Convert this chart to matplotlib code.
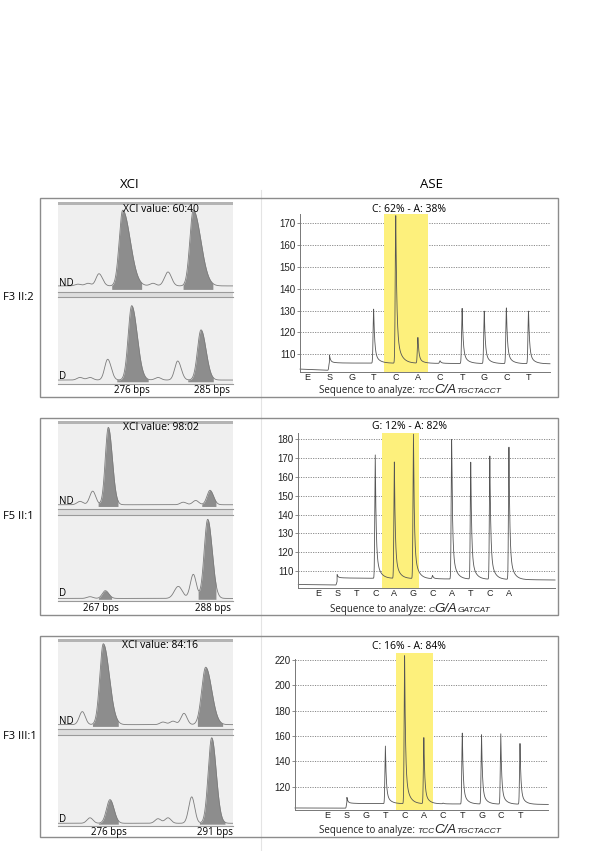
import numpy as np
import matplotlib
matplotlib.use("Agg")
from matplotlib import pyplot as plt
from matplotlib.patches import Rectangle

W, H = 600, 851
MYRIAD = ["Open Sans", "DejaVu Sans"]
ARIAL = ["Liberation Sans", "DejaVu Sans"]

# ---------------- values ----------------
row_names = ["F3 II:2", "F5 II:1", "F3 III:1"]
xci_values = ["60:40", "98:02", "84:16"]
bps_labels = [["276 bps", "285 bps"], ["267 bps", "288 bps"], ["276 bps", "291 bps"]]
bps_pos = [[73.7, 153.7], [43.0, 154.7], [51.3, 157.0]]  # scan point under each label

# XCI traces: peak = (scan point, height over baseline, left width, right width)
# scan runs 0-175 across the panel, heights are fractions of the panel height
nd1_base = 0.07
nd1_peaks = [(20, 0.02, 3, 3), (30, 0.03, 3, 3), (41, 0.14, 3, 3.5), (64.7, 0.87, 3.5, 7.5),
             (95, 0.03, 3, 3), (110, 0.16, 3.5, 3.5), (135.3, 0.87, 3.5, 7.5)]
nd1_fill = [(53.7, 83.7), (125, 155)]
d1_base = 0.04
d1_peaks = [(22, 0.03, 3, 3), (32, 0.03, 3, 3), (49.7, 0.24, 3, 3.5), (73.7, 0.86, 3.5, 5.5),
            (100, 0.03, 3, 3), (119.7, 0.22, 3, 3.5), (143, 0.58, 3.5, 5)]
d1_fill = [(58.7, 90.3), (129.7, 155.3)]

nd2_base = 0.05
nd2_peaks = [(22, 0.04, 3, 3), (34.7, 0.16, 3, 3), (50.3, 0.91, 3, 4),
             (125.3, 0.03, 3, 3), (137.7, 0.05, 3, 3), (152, 0.17, 3, 3.5)]
nd2_fill = [(40, 60), (143.7, 158)]
d2_base = 0.03
d2_peaks = [(32, 0.02, 3, 3), (47.3, 0.09, 3, 3.5), (120.3, 0.14, 4, 4),
            (135.3, 0.28, 3, 3), (149.7, 0.92, 3.5, 4.5)]
d2_fill = [(40.3, 53.7), (140, 158)]

nd3_base = 0.05
nd3_peaks = [(24.3, 0.15, 3, 3), (45.3, 0.93, 3.5, 6), (105, 0.03, 3, 3), (115, 0.04, 3, 3),
             (126, 0.13, 3, 3), (147.7, 0.66, 4, 6)]
nd3_fill = [(34.3, 60.3), (139.3, 164.7)]
d3_base = 0.03
d3_peaks = [(32, 0.06, 3, 3), (52, 0.26, 3.5, 4), (100, 0.05, 3, 3), (110, 0.06, 3, 3),
            (133.7, 0.29, 3, 3), (153.7, 0.94, 3.5, 4.5)]
d3_fill = [(40.3, 60.3), (141.3, 167)]

# ASE pyrograms: peak height per dispensation, nan = no peak
ase_titles = ["C: 62% - A: 38%", "G: 12% - A: 82%", "C: 16% - A: 84%"]
ase1_disp = list("ESGTCACTGCT")
ase1_peak = [np.nan, 109.7, np.nan, 130.7, 173.5, 117.6, 107.0, 131.0, 129.8, 131.3, 129.8]
ase1_base = [103.2, 102.6, 106.0, 105.6]  # start, before S, after S, end
ase2_disp = list("ESTCAGCATCA")
ase2_peak = [np.nan, 108.2, np.nan, 171.7, 168.1, 182.7, 107.5, 180.0, 168.1, 171.1, 176.1]
ase2_base = [102.8, 102.5, 106.3, 105.2]
ase3_disp = list("ESGTCACTGCT")
ase3_peak = [np.nan, 111.6, np.nan, 152.1, 224.0, 158.7, 107.0, 162.6, 161.0, 161.7, 154.2]
ase3_base = [103.2, 103.0, 106.8, 106.0]
ase_ticks = [list(range(110, 171, 10)), list(range(110, 181, 10)), list(range(120, 221, 20))]
ase_ylim = [(102.0, 174.1), (101.1, 183.2), (101.6, 225.6)]
ase_spine_top = [174.1, 183.2, 220.8]
ase_xlim = [(-0.33, 10.97), (-1.03, 12.41), (-1.70, 11.47)]
ase_highlight = [(3.47, 5.45), (3.37, 5.30), (3.55, 5.49)]
ase_seq = [["TCC", "C/A", "TGCTACCT"], ["C", "G/A", "GATCAT"], ["TCC", "C/A", "TGCTACCT"]]

# ---------------- layout (pixels) ----------------
rows = [
    dict(box=(40, 198, 558, 397), band=(202, 205), nd=(205, 292), sep=(292, 297), d=(297, 383.5),
         bps_y=390, ase=(300, 214.3, 550, 371.7), title_y=210, seq_y=393),
    dict(box=(40, 418, 558, 615), band=(421, 424), nd=(424, 509), sep=(509, 515), d=(515, 601),
         bps_y=609, ase=(298.3, 433.3, 555, 587.7), title_y=426.7, seq_y=612),
    dict(box=(40, 636, 558, 837), band=(639, 642), nd=(642, 729), sep=(729, 735), d=(735, 826),
         bps_y=832, ase=(295, 653, 548.3, 810), title_y=646.7, seq_y=833),
]
XL, XR = 58, 233


def px_axes(fig, x0, y0, x1, y1, **kw):
    return fig.add_axes([x0 / W, 1 - y1 / H, (x1 - x0) / W, (y1 - y0) / H], **kw)


def xci_trace(s, base, peaks):
    y = np.full_like(s, base)
    for c, h, wl, wr in peaks:
        w = np.where(s < c, wl, wr)
        y = y + h * np.exp(-0.5 * ((s - c) / w) ** 2)
    return y


def draw_xci(ax, base, peaks, fills, fill_bottom):
    s = np.linspace(0, 175, 1200)
    y = xci_trace(s, base, peaks)
    for a, b in fills:
        m = (s >= a) & (s <= b)
        ax.fill_between(s[m], y[m], fill_bottom, color="#8d8d8d", lw=0)
    ax.plot(s, y, color="#7c7c7c", lw=0.6)
    ax.set_xlim(0, 175)
    ax.set_ylim(0, 1)
    ax.axis("off")


def pyro_trace(x, peaks, base):
    start, pre, post, end = base
    y = np.where(x < 1, np.interp(x, [x[0], 1], [start, pre]),
                 np.interp(x, [1, x[-1]], [post, end]))
    for i, h in enumerate(peaks):
        if np.isnan(h):
            continue
        b = np.interp(i, [1, x[-1]], [post, end])
        d = x - i
        dp = np.clip(d, 0, None)
        shape = np.where(d < 0, np.exp(-0.5 * (d / 0.025) ** 2),
                         0.8 * np.exp(-dp / 0.045) + 0.2 * np.exp(-dp / 0.2))
        y = y + (h - b) * shape
    return y


def draw_ase(ax, disp, peaks, base, k):
    x0, x1 = ase_xlim[k]
    x = np.linspace(x0, x1, 4000)
    ax.set_xlim(x0, x1)
    ax.set_ylim(*ase_ylim[k])
    for t in ase_ticks[k]:
        ax.axhline(t, color="#8a8a8a", lw=0.7, ls=(0, (1.2, 1.3)), zorder=0.5)
    ax.axvspan(*ase_highlight[k], color="#fdf07c", lw=0, zorder=1)
    ax.plot(x, pyro_trace(x, peaks, base), color="#555555", lw=0.6, zorder=2, clip_on=False)
    ax.set_facecolor("none")
    for side in ("top", "right"):
        ax.spines[side].set_visible(False)
    for side in ("left", "bottom"):
        ax.spines[side].set_color("#777777")
        ax.spines[side].set_linewidth(0.7)
    ax.spines["left"].set_bounds(ase_ylim[k][0], ase_spine_top[k])
    ax.set_yticks(ase_ticks[k])
    ax.set_yticklabels([str(t) for t in ase_ticks[k]], fontsize=7, family=ARIAL, color="#222222")
    ax.tick_params(axis="y", length=2, width=0.6, color="#777777", pad=1.2)
    ax.set_xticks(range(len(disp)))
    ax.set_xticklabels(disp, fontsize=6.5, family=ARIAL, color="#222222")
    ax.tick_params(axis="x", length=0, pad=1.0)


def seq_text(ax, renderer, xc, y, pieces):
    parts = [("Sequence to analyze: ", 7, "normal", MYRIAD),
             (pieces[0], 6, "italic", ARIAL),
             (pieces[1], 9.5, "italic", ARIAL),
             (pieces[2], 6, "italic", ARIAL)]
    texts = [ax.text(0, y, s, fontsize=fs, style=st, family=fam, va="baseline", ha="left",
                     color="#222222") for s, fs, st, fam in parts]
    widths = [t.get_window_extent(renderer).width for t in texts]
    x = xc - sum(widths) / 2
    for t, w in zip(texts, widths):
        t.set_x(x)
        x += w


fig = plt.figure(figsize=(W / 100, H / 100), dpi=100)
bg = fig.add_axes([0, 0, 1, 1])
bg.set_xlim(0, W)
bg.set_ylim(H, 0)
bg.axis("off")

bg.plot([261, 261], [190, H], color="#e4e4e4", lw=0.8)

traces = [(nd1_base, nd1_peaks, nd1_fill, d1_base, d1_peaks, d1_fill),
          (nd2_base, nd2_peaks, nd2_fill, d2_base, d2_peaks, d2_fill),
          (nd3_base, nd3_peaks, nd3_fill, d3_base, d3_peaks, d3_fill)]
ase_data = [(ase1_disp, ase1_peak, ase1_base), (ase2_disp, ase2_peak, ase2_base),
            (ase3_disp, ase3_peak, ase3_base)]

for k, lay in enumerate(rows):
    bx0, by0, bx1, by1 = lay["box"]
    bg.add_patch(Rectangle((bx0, by0), bx1 - bx0, by1 - by0, fc="white", ec="none"))
    top, bot = lay["band"][0], lay["d"][1]
    bg.add_patch(Rectangle((XL, top), XR - XL, bot - top, fc="#efefef", ec="none"))
    bg.add_patch(Rectangle((XL, lay["band"][0]), XR - XL, lay["band"][1] - lay["band"][0],
                           fc="#b4b4b4", ec="none"))
    bg.add_patch(Rectangle((XL, lay["sep"][0]), XR - XL, lay["sep"][1] - lay["sep"][0],
                           fc="#dddddd", ec="none"))
    for yy in (lay["sep"][0], lay["sep"][1], lay["d"][1]):
        bg.plot([XL, XR], [yy, yy], color="#9a9a9a", lw=0.8)

    nb, npk, nf, db, dpk, df = traces[k]
    ax_nd = px_axes(fig, XL, lay["nd"][0], XR, lay["sep"][0])
    draw_xci(ax_nd, nb, npk, nf, 0.03)
    ax_d = px_axes(fig, XL, lay["sep"][1], XR, lay["d"][1])
    draw_xci(ax_d, db, dpk, df, 0.02)

    ax_a = px_axes(fig, *lay["ase"])
    draw_ase(ax_a, *ase_data[k], k)

fg = fig.add_axes([0, 0, 1, 1], zorder=10)
fg.set_xlim(0, W)
fg.set_ylim(H, 0)
fg.axis("off")
renderer = fig.canvas.get_renderer()

fg.text(130, 185, "XCI", fontsize=9.5, family=MYRIAD, ha="center", va="center")
fg.text(432, 185, "ASE", fontsize=9.5, family=MYRIAD, ha="center", va="center")

for k, lay in enumerate(rows):
    bx0, by0, bx1, by1 = lay["box"]
    fg.add_patch(Rectangle((bx0, by0), bx1 - bx0, by1 - by0, fc="none", ec="#8c8c8c", lw=1.0))
    fg.text(3, (by0 + by1) / 2, row_names[k], fontsize=8, family=MYRIAD, ha="left", va="center")
    fg.text(160.5, lay["band"][1] + 4, "XCI value: " + xci_values[k], fontsize=7.5,
            family=MYRIAD, ha="center", va="center")
    fg.text(XL + 1, lay["sep"][0] - 8, "ND", fontsize=7, family=MYRIAD, ha="left", va="center")
    fg.text(XL + 1, lay["d"][1] - 7, "D", fontsize=7, family=MYRIAD, ha="left", va="center")
    for lab, s in zip(bps_labels[k], bps_pos[k]):
        fg.text(XL + s, lay["bps_y"], lab, fontsize=7, family=MYRIAD, ha="center", va="center")
    fg.text(409, lay["title_y"], ase_titles[k], fontsize=7.5, family=MYRIAD,
            ha="center", va="center")
    seq_text(fg, renderer, 410, lay["seq_y"], ase_seq[k])

fig.savefig("out.png", dpi=100)
